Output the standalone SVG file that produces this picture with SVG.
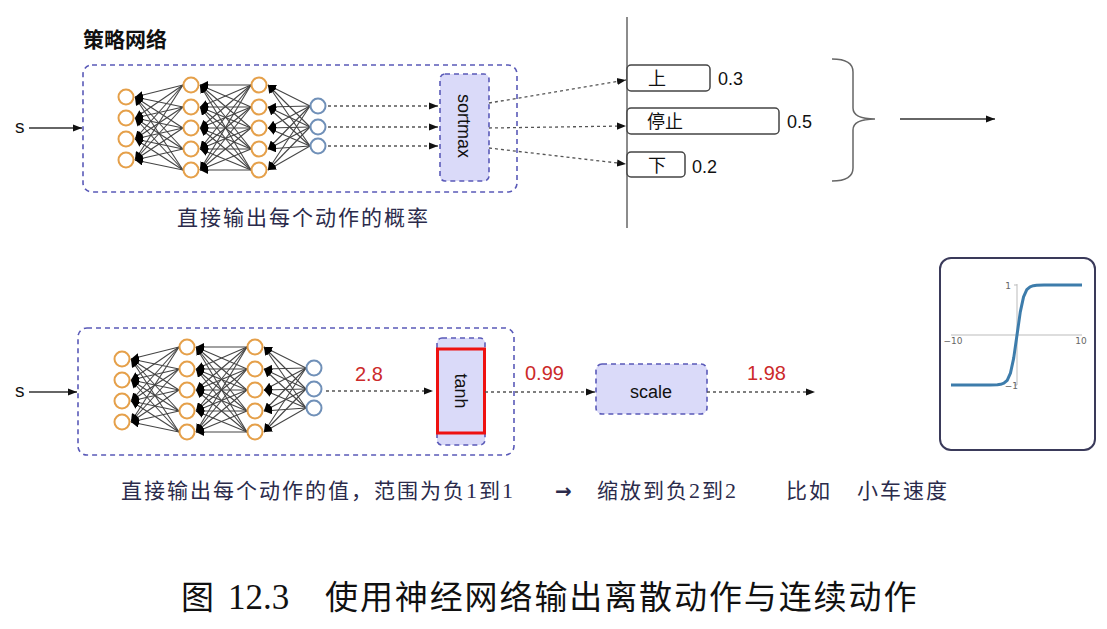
<svg xmlns="http://www.w3.org/2000/svg" xmlns:xlink="http://www.w3.org/1999/xlink" width="1107" height="629" viewBox="0 0 1107 629">
<defs>
<style>
.box{fill:none;stroke:#5a5ab8;stroke-width:1.6;stroke-dasharray:5 4}
.fn{fill:#dadaf9;stroke:#5a5ab8;stroke-width:1.6;stroke-dasharray:5 4}
.on{fill:#fff;stroke:#e5a04a;stroke-width:2}
.bn{fill:#fff;stroke:#7090b8;stroke-width:2}
.e{stroke:#444;stroke-width:1.1;marker-end:url(#ah)}
.dash{stroke:#555;stroke-width:1.3;stroke-dasharray:3 3;fill:none;marker-end:url(#ar)}
.solid{stroke:#333;stroke-width:1.4;fill:none;marker-end:url(#ar)}
.lat{font-family:"Liberation Sans",Arial,sans-serif;fill:#111}
.cjk{font-family:"Noto Sans CJK SC",sans-serif}
.cap{font-family:"Noto Sans CJK SC",sans-serif;fill:#2b2b4b;font-size:21px;letter-spacing:2px}
.dg{font-family:"Liberation Serif",serif;font-size:22px}
.red{font-family:"Liberation Sans",Arial,sans-serif;fill:#cc2a2a;font-size:20px}
.opt{fill:#fff;stroke:#444;stroke-width:1.5}
.ax{stroke:#bbb;stroke-width:1;fill:none}
.tk{font-family:"DejaVu Sans",sans-serif;font-size:9px;fill:#666}
</style>
<marker id="ah" viewBox="0 0 10 10" refX="10" refY="5" markerWidth="8" markerHeight="8" markerUnits="userSpaceOnUse" orient="auto"><path d="M0,0 L10,5 L0,10 z" fill="#000"/></marker>
<marker id="ar" viewBox="0 0 10 10" refX="10" refY="5" markerWidth="9" markerHeight="9" markerUnits="userSpaceOnUse" orient="auto"><path d="M0,1 L10,5 L0,9 z" fill="#111"/></marker>
<g id="net">
<g>
<line class="e" x1="183" y1="85" x2="135" y2="97"/><line class="e" x1="183" y1="85" x2="135" y2="118"/><line class="e" x1="183" y1="85" x2="135" y2="139"/><line class="e" x1="183" y1="85" x2="135" y2="160"/>
<line class="e" x1="183" y1="107" x2="135" y2="97"/><line class="e" x1="183" y1="107" x2="135" y2="118"/><line class="e" x1="183" y1="107" x2="135" y2="139"/><line class="e" x1="183" y1="107" x2="135" y2="160"/>
<line class="e" x1="183" y1="128" x2="135" y2="97"/><line class="e" x1="183" y1="128" x2="135" y2="118"/><line class="e" x1="183" y1="128" x2="135" y2="139"/><line class="e" x1="183" y1="128" x2="135" y2="160"/>
<line class="e" x1="183" y1="149" x2="135" y2="97"/><line class="e" x1="183" y1="149" x2="135" y2="118"/><line class="e" x1="183" y1="149" x2="135" y2="139"/><line class="e" x1="183" y1="149" x2="135" y2="160"/>
<line class="e" x1="183" y1="170" x2="135" y2="97"/><line class="e" x1="183" y1="170" x2="135" y2="118"/><line class="e" x1="183" y1="170" x2="135" y2="139"/><line class="e" x1="183" y1="170" x2="135" y2="160"/>
<line class="e" x1="251" y1="85" x2="200" y2="85"/><line class="e" x1="251" y1="85" x2="200" y2="107"/><line class="e" x1="251" y1="85" x2="200" y2="128"/><line class="e" x1="251" y1="85" x2="200" y2="149"/><line class="e" x1="251" y1="85" x2="200" y2="170"/>
<line class="e" x1="251" y1="107" x2="200" y2="85"/><line class="e" x1="251" y1="107" x2="200" y2="107"/><line class="e" x1="251" y1="107" x2="200" y2="128"/><line class="e" x1="251" y1="107" x2="200" y2="149"/><line class="e" x1="251" y1="107" x2="200" y2="170"/>
<line class="e" x1="251" y1="128" x2="200" y2="85"/><line class="e" x1="251" y1="128" x2="200" y2="107"/><line class="e" x1="251" y1="128" x2="200" y2="128"/><line class="e" x1="251" y1="128" x2="200" y2="149"/><line class="e" x1="251" y1="128" x2="200" y2="170"/>
<line class="e" x1="251" y1="149" x2="200" y2="85"/><line class="e" x1="251" y1="149" x2="200" y2="107"/><line class="e" x1="251" y1="149" x2="200" y2="128"/><line class="e" x1="251" y1="149" x2="200" y2="149"/><line class="e" x1="251" y1="149" x2="200" y2="170"/>
<line class="e" x1="251" y1="170" x2="200" y2="85"/><line class="e" x1="251" y1="170" x2="200" y2="107"/><line class="e" x1="251" y1="170" x2="200" y2="128"/><line class="e" x1="251" y1="170" x2="200" y2="149"/><line class="e" x1="251" y1="170" x2="200" y2="170"/>
<line class="e" x1="310" y1="106" x2="268" y2="85"/><line class="e" x1="310" y1="106" x2="268" y2="107"/><line class="e" x1="310" y1="106" x2="268" y2="128"/><line class="e" x1="310" y1="106" x2="268" y2="149"/><line class="e" x1="310" y1="106" x2="268" y2="170"/>
<line class="e" x1="310" y1="127" x2="268" y2="85"/><line class="e" x1="310" y1="127" x2="268" y2="107"/><line class="e" x1="310" y1="127" x2="268" y2="128"/><line class="e" x1="310" y1="127" x2="268" y2="149"/><line class="e" x1="310" y1="127" x2="268" y2="170"/>
<line class="e" x1="310" y1="146" x2="268" y2="85"/><line class="e" x1="310" y1="146" x2="268" y2="107"/><line class="e" x1="310" y1="146" x2="268" y2="128"/><line class="e" x1="310" y1="146" x2="268" y2="149"/><line class="e" x1="310" y1="146" x2="268" y2="170"/>
</g>
<circle class="on" cx="126" cy="97" r="7.5"/><circle class="on" cx="126" cy="118" r="7.5"/><circle class="on" cx="126" cy="139" r="7.5"/><circle class="on" cx="126" cy="160" r="7.5"/>
<circle class="on" cx="191" cy="85" r="7.5"/><circle class="on" cx="191" cy="107" r="7.5"/><circle class="on" cx="191" cy="128" r="7.5"/><circle class="on" cx="191" cy="149" r="7.5"/><circle class="on" cx="191" cy="170" r="7.5"/>
<circle class="on" cx="259" cy="85" r="7.5"/><circle class="on" cx="259" cy="107" r="7.5"/><circle class="on" cx="259" cy="128" r="7.5"/><circle class="on" cx="259" cy="149" r="7.5"/><circle class="on" cx="259" cy="170" r="7.5"/>
<circle class="bn" cx="318" cy="106" r="7.5"/><circle class="bn" cx="318" cy="127" r="7.5"/><circle class="bn" cx="318" cy="146" r="7.5"/>
</g>
</defs>
<rect width="1107" height="629" fill="#fff"/>

<!-- top: discrete -->
<g id="title"><text class="cjk" x="83" y="47" font-size="21" font-weight="bold" fill="#111">策略网络</text></g>
<g id="policy-box-top"><rect class="box" x="83" y="65" width="434" height="127" rx="9"/></g>
<g id="net-top"><use xlink:href="#net"/></g>
<g id="sortmax"><rect class="fn" x="440" y="74" width="49" height="107" rx="5"/>
<text class="lat" x="0" y="0" font-size="18" text-anchor="middle" transform="translate(458,126) rotate(90)">sortmax</text></g>
<g id="input-s-top"><text class="lat" x="15" y="133" font-size="19">s</text></g>
<g id="caption-top"><text class="cap" x="177" y="225">直接输出每个动作的概率</text></g>
<g id="divider"><line x1="627" y1="17" x2="627" y2="228" stroke="#666" stroke-width="1.5"/></g>
<g id="opt-up"><rect class="opt" x="627" y="65" width="83" height="26" rx="4"/><text class="cjk" x="657" y="85" font-size="18" text-anchor="middle" fill="#111">上</text><text class="lat" x="718" y="85" font-size="18">0.3</text></g>
<g id="opt-stop"><rect class="opt" x="627" y="108" width="152" height="26" rx="4"/><text class="cjk" x="665" y="128" font-size="18" text-anchor="middle" fill="#111">停止</text><text class="lat" x="787" y="128" font-size="18">0.5</text></g>
<g id="opt-down"><rect class="opt" x="627" y="152" width="58" height="25" rx="4"/><text class="cjk" x="657" y="172" font-size="18" text-anchor="middle" fill="#111">下</text><text class="lat" x="692" y="173" font-size="18">0.2</text></g>
<g id="brace"><path d="M832,59 Q853,59 853,72 L853,108 Q853,119 875,119 Q853,119 853,130 L853,168 Q853,181 832,181" fill="none" stroke="#666" stroke-width="1.5"/></g>

<!-- bottom: continuous -->
<g id="policy-box-bottom"><rect class="box" x="78" y="328" width="436" height="127" rx="9"/></g>
<g id="net-bottom"><use xlink:href="#net" transform="translate(-4,262)"/></g>
<g id="input-s-bottom"><text class="lat" x="15" y="397" font-size="19">s</text></g>
<g id="tanh"><rect class="fn" x="437" y="338" width="48" height="107" rx="5"/>
<rect x="437.5" y="349" width="47" height="84" fill="none" stroke="#ee1111" stroke-width="3"/>
<text class="lat" x="0" y="0" font-size="18" text-anchor="middle" transform="translate(455,391) rotate(90)">tanh</text></g>
<g id="scale"><rect class="fn" x="596" y="364" width="111" height="50" rx="6"/><text class="lat" x="651" y="398" font-size="18" text-anchor="middle">scale</text></g>
<g id="value-labels"><text class="red" x="355" y="381">2.8</text><text class="red" x="525" y="380">0.99</text><text class="red" x="747" y="380">1.98</text></g>
<g id="tanh-plot">
<rect x="940" y="258" width="155" height="192" rx="11" fill="#fff" stroke="#3a3a5a" stroke-width="2"/>
<line class="ax" x1="951" y1="335" x2="1082" y2="335"/>
<line class="ax" x1="1017" y1="284" x2="1017" y2="385"/>
<line class="ax" x1="1014" y1="285" x2="1017" y2="285"/><line class="ax" x1="1014" y1="385" x2="1017" y2="385"/>
<text class="tk" x="1011" y="289" text-anchor="end">1</text>
<text class="tk" x="1018" y="389" text-anchor="end">−1</text>
<text class="tk" x="953" y="344" text-anchor="middle">−10</text>
<text class="tk" x="1081" y="344" text-anchor="middle">10</text>
<polyline fill="none" stroke="#3d7cab" stroke-width="3" stroke-linejoin="round" points="951,385 990,385 997.4,384.8 1000.6,384.3 1003.9,383.2 1007.2,380.3 1010.45,373.1 1013.7,358.1 1017,335 1020.3,311.9 1023.55,296.9 1026.8,289.7 1030.1,286.8 1033.4,285.7 1036.65,285.2 1044,285 1082,285"/>
</g>
<g id="caption-bottom">
<text class="cap" x="121" y="498">直接输出每个动作的值，范围为负<tspan class="dg">1</tspan>到<tspan class="dg">1</tspan></text>
<text x="555" y="498" font-family="DejaVu Sans,sans-serif" font-weight="bold" font-size="20" fill="#2b2b4b">→</text>
<text class="cap" x="597" y="498">缩放到负<tspan class="dg">2</tspan>到<tspan class="dg">2</tspan></text>
<text class="cap" x="786" y="498">比如</text>
<text class="cap" x="857" y="498">小车速度</text>
</g>
<g id="figure-caption">
<text x="181" y="609" font-family="Noto Sans CJK SC,sans-serif" font-size="33" fill="#111">图</text>
<text x="228" y="609" font-family="Liberation Serif,serif" font-size="35" fill="#111">12.3</text>
<text x="325" y="609" font-family="Noto Sans CJK SC,sans-serif" font-size="33" letter-spacing="1.9" fill="#111">使用神经网络输出离散动作与连续动作</text>
</g>

<!-- connectors -->
<g id="connectors">
<line class="solid" x1="29" y1="128" x2="82" y2="128"/>
<line class="dash" x1="328" y1="106" x2="438" y2="106"/>
<line class="dash" x1="328" y1="127" x2="438" y2="127"/>
<line class="dash" x1="328" y1="146" x2="438" y2="146"/>
<line class="dash" x1="489" y1="103" x2="626" y2="80"/>
<line class="dash" x1="489" y1="128" x2="626" y2="126"/>
<line class="dash" x1="489" y1="148" x2="626" y2="164"/>
<line class="solid" x1="900" y1="119" x2="995" y2="119"/>
<line class="solid" x1="29" y1="392" x2="77" y2="392"/>
<line class="dash" x1="326" y1="391" x2="433" y2="391"/>
<line class="dash" x1="485" y1="392" x2="595" y2="392"/>
<line class="dash" x1="707" y1="392" x2="815" y2="392"/>
</g>
</svg>
